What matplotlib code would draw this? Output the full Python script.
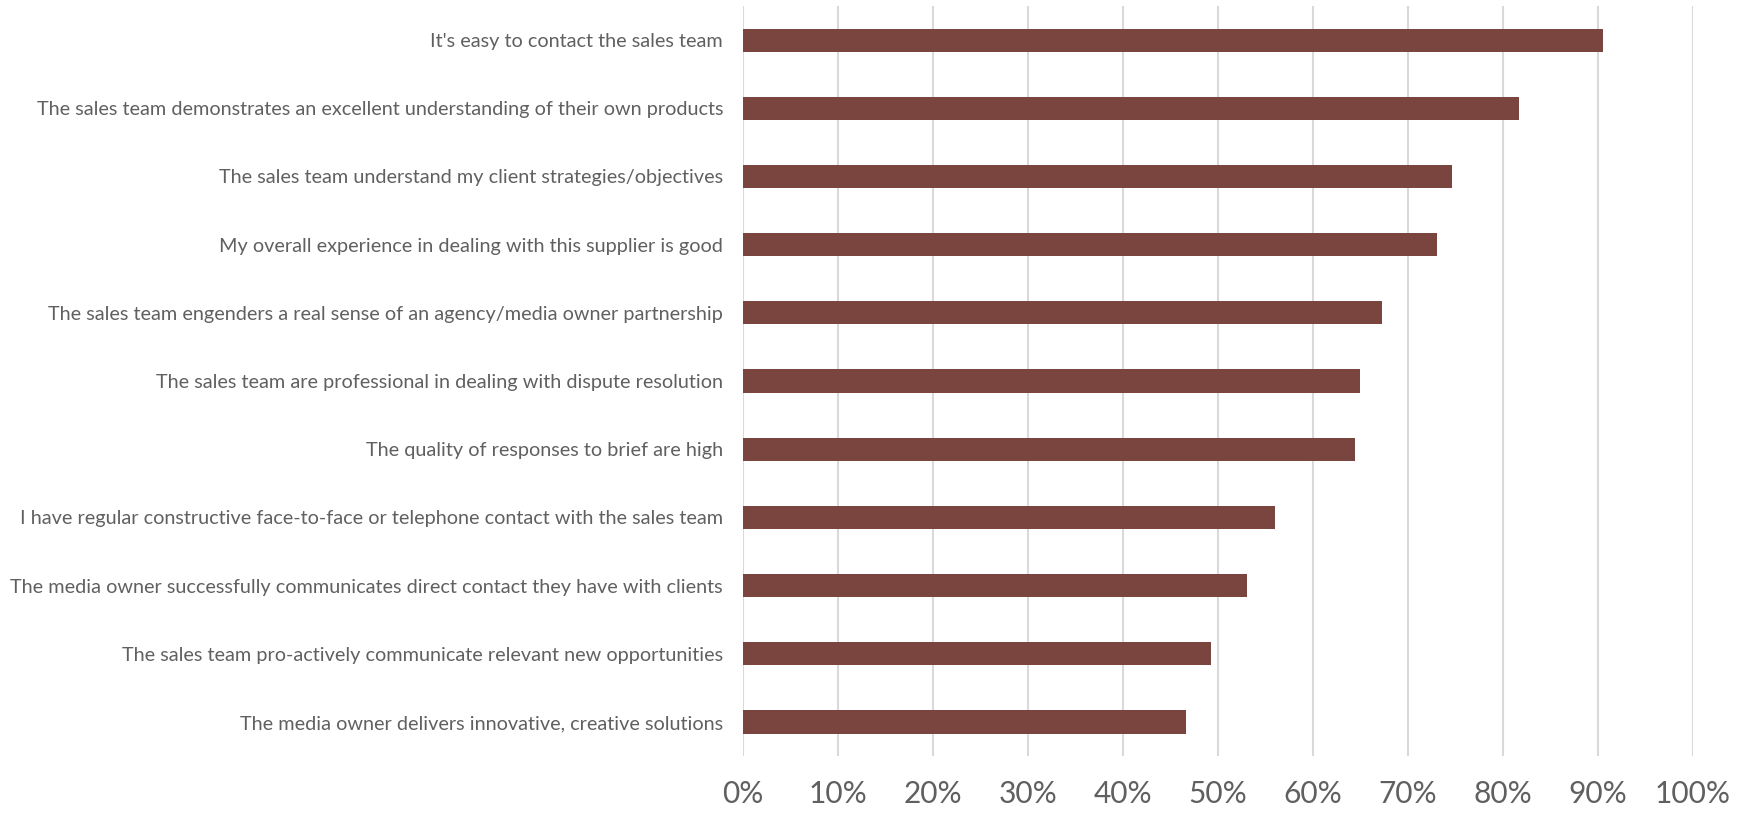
import numpy as np
import matplotlib
matplotlib.use("Agg")
import matplotlib.pyplot as plt
from matplotlib.ticker import FuncFormatter

# survey statements, top to bottom
statements = [
    "It's easy to contact the sales team",
    "The sales team demonstrates an excellent understanding of their own products",
    "The sales team understand my client strategies/objectives",
    "My overall experience in dealing with this supplier is good",
    "The sales team engenders a real sense of an agency/media owner partnership",
    "The sales team are professional in dealing with dispute resolution",
    "The quality of responses to brief are high",
    "I have regular constructive face-to-face or telephone contact with the sales team",
    "The media owner successfully communicates direct contact they have with clients",
    "The sales team pro-actively communicate relevant new opportunities",
    "The media owner delivers innovative, creative solutions",
]
agree_share = [0.905, 0.817, 0.746, 0.731, 0.673, 0.650, 0.644, 0.560, 0.531, 0.493, 0.467]
x_ticks = [i / 10 for i in range(11)]

plt.rcParams['font.family'] = ['Lato', 'DejaVu Sans']

fig = plt.figure(figsize=(17.41, 8.13), dpi=100)
ax = fig.add_axes([0.4265, 0.0701, 0.5459, 0.9225])

pos = np.arange(len(statements))
ax.barh(pos, agree_share, height=0.34, color='#7a453f', zorder=3)

ax.set_ylim(len(statements) - 0.5, -0.5)
ax.set_xlim(0, 1.0)
ax.set_yticks(pos)
ax.set_yticklabels(statements, fontsize=14.3, color='#606060')
ax.set_xticks(x_ticks)
ax.xaxis.set_major_formatter(FuncFormatter(lambda v, _: f"{v:.0%}"))
ax.tick_params(axis='x', labelsize=21.5, colors='#606060', length=0, pad=17)
ax.tick_params(axis='y', length=0, pad=14)

ax.grid(axis='x', color='#d9d9d9', linewidth=1.5, zorder=0)
ax.set_axisbelow(True)
for s in ax.spines.values():
    s.set_visible(False)

fig.savefig("out.png", dpi=100, facecolor='white')
